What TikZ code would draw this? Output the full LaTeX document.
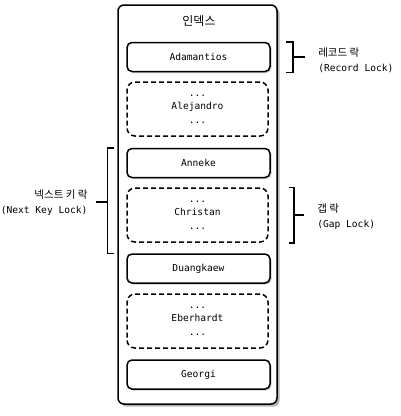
\documentclass[tikz,border=0pt]{standalone}
\usepackage{fontspec}
\setmainfont{DejaVu Sans Mono}
\newfontfamily\kofont{Noto Sans CJK KR}
\usetikzlibrary{shadows}
\begin{document}
\begin{tikzpicture}
[x=1pt, y=-1pt, font=\fontsize{9.6}{13.5}\selectfont,
  indexdecorate/.style={shape=rectangle,draw,line width=1.5pt,rounded corners=6pt,
    minimum width=159pt,minimum height=399pt,fill=white,
    drop shadow={shadow xshift=2.5pt,shadow yshift=-2.5pt,opacity=0.6}},
  recdecorate/.style={shape=rectangle,draw,line width=1.5pt,rounded corners=5pt,
    minimum width=143pt,minimum height=29pt,inner sep=0pt,fill=white,
    drop shadow={shadow xshift=1.5pt,shadow yshift=-1.5pt,opacity=0.4}},
  gapdecorate/.style={shape=rectangle,draw,line width=1.5pt,dash pattern=on 5pt off 3pt,
    rounded corners=8pt,minimum width=141pt,minimum height=54pt,inner sep=0pt,align=center},
  bracedecorate/.style={-,line width=1.5pt},
  lockdecorate/.style={font=\fontsize{9.6}{15}\selectfont}]
\useasboundingbox (0,0) rectangle (400,416);
%% index and its entries
\node (index) at (197.5,204.5) [indexdecorate] {};
\node (title) at (199,21) {\kofont\fontsize{12}{14}\selectfont 인덱스};
\foreach \nodename/\y/\name in {adamantios/57/Adamantios, anneke/163/Anneke,
  duangkaew/268.5/Duangkaew, georgi/374.5/Georgi}
{
  \node (\nodename) at (198.5,\y) [recdecorate] {\name};
}
\foreach \nodename/\y/\name in {alejandro/109/Alejandro, christan/215/Christan,
  eberhardt/321/Eberhardt}
{
  \node (\nodename) at (197.5,\y) [gapdecorate] {...\\\name\\...};
}
%% locks
\draw[bracedecorate] ([xshift=15pt]adamantios.north east) -- ++(7,0)
  |- ([xshift=15pt]adamantios.south east);
\draw[bracedecorate] ([xshift=22pt]adamantios.east) -- ++(12,0) coordinate (rectick);
\node (reclabel) [lockdecorate,anchor=west,align=left] at ([xshift=10pt,yshift=-3pt]rectick)
  {{\kofont\fontsize{10.5}{12}\selectfont 레코드 락}\\(Record Lock)};
\draw[bracedecorate] ([xshift=20pt]christan.north east) -- ++(5,0)
  |- ([xshift=20pt]christan.south east);
\draw[bracedecorate] ([xshift=25pt]christan.east) -- ++(10,0) coordinate (gaptick);
\node (gaplabel) [lockdecorate,anchor=west,align=left] at ([xshift=10pt,yshift=-2pt]gaptick)
  {{\kofont\fontsize{10.5}{12}\selectfont 갭 락}\\(Gap Lock)};
\draw[bracedecorate] ([xshift=-12pt]anneke.north west) -- ++(-7,0)
  |- ([xshift=-12pt]duangkaew.north west);
\draw[bracedecorate] (108,202) -- ++(-12,0) coordinate (nexttick);
\node (nextlabel) [lockdecorate,anchor=east,align=right] at ([xshift=-5pt,yshift=-1pt]nexttick)
  {{\kofont\fontsize{10.5}{12}\selectfont 넥스트 키 락}\\(Next Key Lock)};
\end{tikzpicture}
\end{document}
